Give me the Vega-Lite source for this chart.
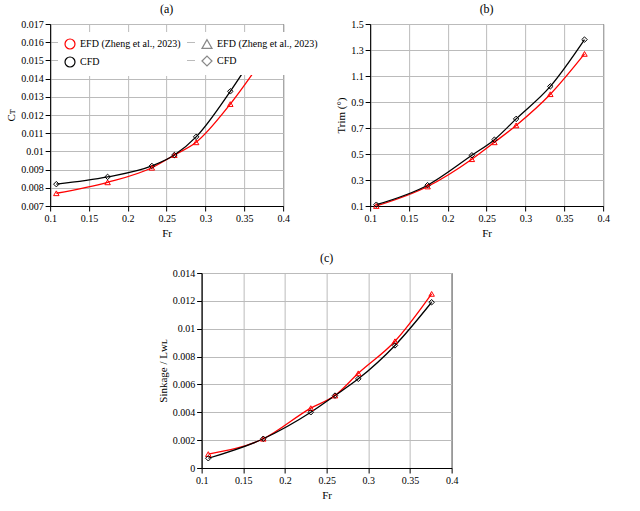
{
  "$schema": "https://vega.github.io/schema/vega-lite/v6.json",
  "background": "white",
  "padding": {"left": 5, "top": 2, "right": 5, "bottom": 2},
  "config": {
    "font": "Liberation Serif",
    "axis": {"gridColor": "#bbbbbb", "domainColor": "black", "tickColor": "black", "labelColor": "black", "titleColor": "black", "labelFontSize": 10, "titleFontSize": 11, "titleFontWeight": "normal", "labelOverlap": false, "labelFlush": false},
    "title": {"fontSize": 12, "fontWeight": "normal", "offset": 3},
    "legend": {"labelFontSize": 10, "symbolStrokeWidth": 1.2, "fillColor": "white", "padding": 6},
    "view": {"stroke": "black"}
  },
  "datasets": {
    "ct": [
      {"Fr": 0.108, "v": 0.0077, "s": "EFD (Zheng et al., 2023)"},
      {"Fr": 0.174, "v": 0.0083, "s": "EFD (Zheng et al., 2023)"},
      {"Fr": 0.231, "v": 0.0091, "s": "EFD (Zheng et al., 2023)"},
      {"Fr": 0.260, "v": 0.0098, "s": "EFD (Zheng et al., 2023)"},
      {"Fr": 0.288, "v": 0.0105, "s": "EFD (Zheng et al., 2023)"},
      {"Fr": 0.332, "v": 0.0126, "s": "EFD (Zheng et al., 2023)"},
      {"Fr": 0.376, "v": 0.0152, "s": "EFD (Zheng et al., 2023)"},
      {"Fr": 0.108, "v": 0.0082, "s": "CFD"},
      {"Fr": 0.174, "v": 0.0086, "s": "CFD"},
      {"Fr": 0.231, "v": 0.0092, "s": "CFD"},
      {"Fr": 0.260, "v": 0.0098, "s": "CFD"},
      {"Fr": 0.288, "v": 0.0108, "s": "CFD"},
      {"Fr": 0.332, "v": 0.0133, "s": "CFD"},
      {"Fr": 0.376, "v": 0.0162, "s": "CFD"}
    ],
    "trim": [
      {"Fr": 0.108, "v": 0.10, "s": "EFD (Zheng et al., 2023)"},
      {"Fr": 0.174, "v": 0.25, "s": "EFD (Zheng et al., 2023)"},
      {"Fr": 0.231, "v": 0.46, "s": "EFD (Zheng et al., 2023)"},
      {"Fr": 0.260, "v": 0.59, "s": "EFD (Zheng et al., 2023)"},
      {"Fr": 0.288, "v": 0.72, "s": "EFD (Zheng et al., 2023)"},
      {"Fr": 0.332, "v": 0.96, "s": "EFD (Zheng et al., 2023)"},
      {"Fr": 0.376, "v": 1.27, "s": "EFD (Zheng et al., 2023)"},
      {"Fr": 0.108, "v": 0.11, "s": "CFD"},
      {"Fr": 0.174, "v": 0.26, "s": "CFD"},
      {"Fr": 0.231, "v": 0.49, "s": "CFD"},
      {"Fr": 0.260, "v": 0.61, "s": "CFD"},
      {"Fr": 0.288, "v": 0.77, "s": "CFD"},
      {"Fr": 0.332, "v": 1.02, "s": "CFD"},
      {"Fr": 0.376, "v": 1.38, "s": "CFD"}
    ],
    "sink": [
      {"Fr": 0.108, "v": 0.0010, "s": "EFD (Zheng et al., 2023)"},
      {"Fr": 0.174, "v": 0.0021, "s": "EFD (Zheng et al., 2023)"},
      {"Fr": 0.231, "v": 0.0043, "s": "EFD (Zheng et al., 2023)"},
      {"Fr": 0.260, "v": 0.0052, "s": "EFD (Zheng et al., 2023)"},
      {"Fr": 0.288, "v": 0.0068, "s": "EFD (Zheng et al., 2023)"},
      {"Fr": 0.332, "v": 0.0091, "s": "EFD (Zheng et al., 2023)"},
      {"Fr": 0.376, "v": 0.0125, "s": "EFD (Zheng et al., 2023)"},
      {"Fr": 0.108, "v": 0.0007, "s": "CFD"},
      {"Fr": 0.174, "v": 0.0021, "s": "CFD"},
      {"Fr": 0.231, "v": 0.0040, "s": "CFD"},
      {"Fr": 0.260, "v": 0.0052, "s": "CFD"},
      {"Fr": 0.288, "v": 0.0064, "s": "CFD"},
      {"Fr": 0.332, "v": 0.0088, "s": "CFD"},
      {"Fr": 0.376, "v": 0.0119, "s": "CFD"}
    ]
  },
  "spacing": 12,
  "center": true,
  "vconcat": [
    {
      "spacing": 45,
      "hconcat": [
        {
          "title": "(a)",
          "width": 233, "height": 182,
          "data": {"name": "ct"},
          "mark": {"type": "line", "interpolate": "monotone", "strokeWidth": 1.3, "point": {"filled": false, "size": 30, "strokeWidth": 1}},
          "encoding": {
            "x": {"field": "Fr", "type": "quantitative", "scale": {"domain": [0.1, 0.4]}, "axis": {"values": [0.1, 0.15, 0.2, 0.25, 0.3, 0.35, 0.4], "format": "~g"}},
            "y": {"field": "v", "type": "quantitative", "title": "Cᴛ", "scale": {"domain": [0.007, 0.017]}, "axis": {"values": [0.007, 0.008, 0.009, 0.01, 0.011, 0.012, 0.013, 0.014, 0.015, 0.016, 0.017], "format": "~g"}},
            "color": {"field": "s", "type": "nominal", "sort": null, "scale": {"range": ["red", "black"]}, "legend": {"title": null, "orient": "top-left", "offset": 8}},
            "shape": {"field": "s", "type": "nominal", "sort": null, "scale": {"range": ["triangle-up", "diamond"]}, "legend": {"title": null, "orient": "top-left", "offset": 8}}
          }
        },
        {
          "title": "(b)",
          "width": 233, "height": 182,
          "data": {"name": "trim"},
          "mark": {"type": "line", "interpolate": "monotone", "strokeWidth": 1.3, "point": {"filled": false, "size": 30, "strokeWidth": 1}},
          "encoding": {
            "x": {"field": "Fr", "type": "quantitative", "scale": {"domain": [0.1, 0.4]}, "axis": {"values": [0.1, 0.15, 0.2, 0.25, 0.3, 0.35, 0.4], "format": "~g"}},
            "y": {"field": "v", "type": "quantitative", "title": "Trim (°)", "scale": {"domain": [0.1, 1.5]}, "axis": {"values": [0.1, 0.3, 0.5, 0.7, 0.9, 1.1, 1.3, 1.5], "format": ".1f"}},
            "color": {"field": "s", "type": "nominal", "sort": null, "scale": {"range": ["red", "black"]}, "legend": {"title": null, "orient": "top-left", "offset": 8}},
            "shape": {"field": "s", "type": "nominal", "sort": null, "scale": {"range": ["triangle-up", "diamond"]}, "legend": {"title": null, "orient": "top-left", "offset": 8}}
          }
        }
      ]
    },
    {
      "title": "(c)",
      "width": 250, "height": 195,
      "data": {"name": "sink"},
      "mark": {"type": "line", "interpolate": "monotone", "strokeWidth": 1.3, "point": {"filled": false, "size": 30, "strokeWidth": 1}},
      "encoding": {
        "x": {"field": "Fr", "type": "quantitative", "scale": {"domain": [0.1, 0.4]}, "axis": {"values": [0.1, 0.15, 0.2, 0.25, 0.3, 0.35, 0.4], "format": "~g"}},
        "y": {"field": "v", "type": "quantitative", "title": "Sinkage / Lᴡʟ", "scale": {"domain": [0, 0.014]}, "axis": {"values": [0, 0.002, 0.004, 0.006, 0.008, 0.01, 0.012, 0.014], "format": "~g"}},
        "color": {"field": "s", "type": "nominal", "sort": null, "scale": {"range": ["red", "black"]}, "legend": {"title": null, "orient": "top-left", "offset": 8}},
        "shape": {"field": "s", "type": "nominal", "sort": null, "scale": {"range": ["triangle-up", "diamond"]}, "legend": {"title": null, "orient": "top-left", "offset": 8}}
      }
    }
  ],
  "resolve": {"scale": {"y": "independent", "x": "independent"}}
}
